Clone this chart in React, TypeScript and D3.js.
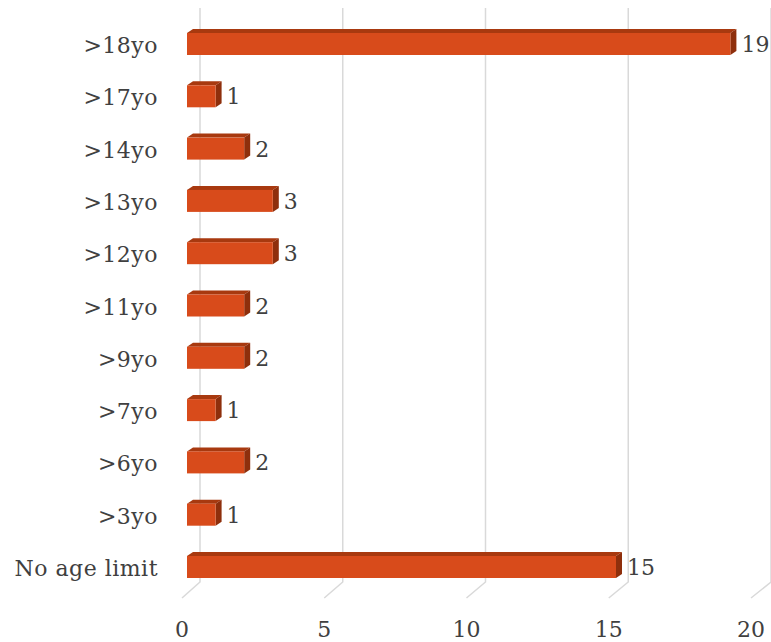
import React from "react";
import * as d3 from "d3";

const categories = [">18yo", ">17yo", ">14yo", ">13yo", ">12yo", ">11yo", ">9yo", ">7yo", ">6yo", ">3yo", "No age limit"];
const values = [19, 1, 2, 3, 3, 2, 2, 1, 2, 1, 15];
const ticks = [0, 5, 10, 15, 20];

const W = 771;
const H = 642;
const FONT = "'DejaVu Serif', 'Liberation Serif', serif";

export default function App() {
  const xBar = d3.scaleLinear().domain([0, 20]).range([187, 759]);
  const xBack = d3.scaleLinear().domain([0, 20]).range([200, 771]);
  const xFloor = d3.scaleLinear().domain([0, 20]).range([182, 751]);
  const y = d3.scalePoint<string>().domain(categories).range([44, 567]);
  const barH = 22;
  const dx = 6;
  const dy = -4;
  const gridTop = 8;
  const gridBottom = 582;
  const floorY = 598;

  return (
    <svg width={W} height={H} style={{ position: "absolute", left: 0, top: 0, background: "#fff" }}>
      <g>
        {ticks.map((t) => (
          <path
            key={"g" + t}
            d={`M${xBack(t)},${gridTop} L${xBack(t)},${gridBottom} L${xFloor(t)},${floorY}`}
            fill="none"
            stroke="#d9d9d9"
            strokeWidth={1.5}
          />
        ))}
      </g>
      <g>
        {categories.map((c, i) => {
          const v = values[i];
          const x0 = xBar(0);
          const x1 = xBar(v);
          const yc = y(c) as number;
          const yt = yc - barH / 2;
          const yb = yc + barH / 2;
          return (
            <g key={c}>
              <path
                d={`M${x0},${yt} L${x0 + dx},${yt + dy} L${x1 + dx},${yt + dy} L${x1},${yt} Z`}
                fill="#a8390f"
              />
              <path
                d={`M${x1},${yt} L${x1 + dx},${yt + dy} L${x1 + dx},${yb + dy} L${x1},${yb} Z`}
                fill="#8e2f0c"
              />
              <rect x={x0} y={yt} width={x1 - x0} height={barH} fill="#d84b1b" />
              <text
                x={x1 + dx + 5}
                y={yc + 8}
                fontFamily={FONT}
                fontSize={22}
                fill="#404040"
              >
                {v}
              </text>
              <text
                x={158}
                y={yc + 9}
                textAnchor="end"
                fontFamily={FONT}
                fontSize={22}
                letterSpacing={0.5}
                fill="#404040"
              >
                {c}
              </text>
            </g>
          );
        })}
      </g>
      <g>
        {ticks.map((t) => (
          <text
            key={"t" + t}
            x={xFloor(t)}
            y={637}
            textAnchor="middle"
            fontFamily={FONT}
            fontSize={22}
            fill="#404040"
          >
            {t}
          </text>
        ))}
      </g>
    </svg>
  );
}
